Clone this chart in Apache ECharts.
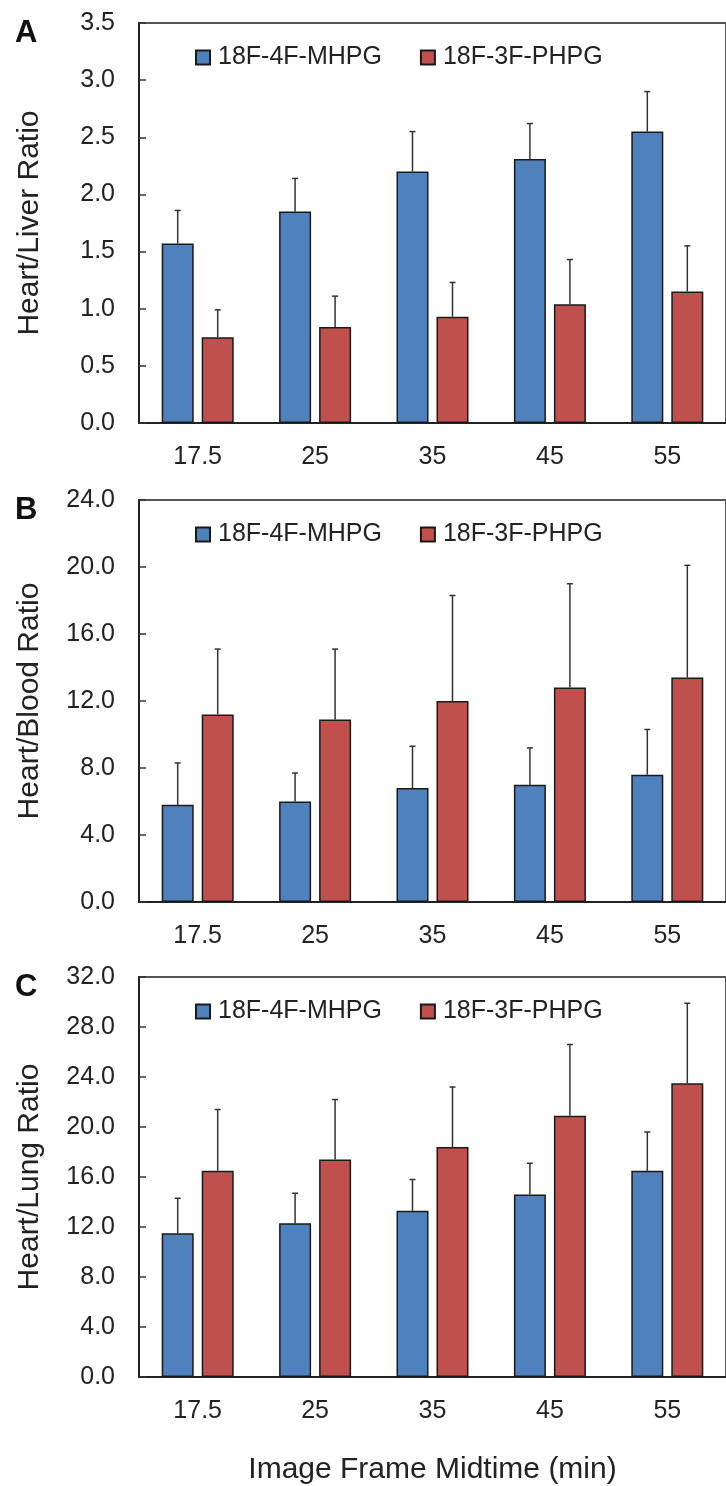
<!DOCTYPE html>
<html>
<head>
<meta charset="utf-8">
<script src="https://cdn.jsdelivr.net/npm/echarts@6/dist/echarts.min.js"></script>
<style>
  html, body { margin: 0; padding: 0; background: #fff; }
  #dom { width: 726px; height: 1486px; }
</style>
</head>
<body>
<div id="dom"></div>
<script>
var categories = ['17.5', '25', '35', '45', '55']
var seriesNames = ['18F-4F-MHPG', '18F-3F-PHPG']

// A: heart/liver
var liverMhpg = [1.57, 1.85, 2.20, 2.31, 2.55]
var liverMhpgSd = [0.29, 0.29, 0.35, 0.31, 0.35]
var liverPhpg = [0.75, 0.84, 0.93, 1.04, 1.15]
var liverPhpgSd = [0.24, 0.27, 0.30, 0.39, 0.40]

// B: heart/blood
var bloodMhpg = [5.8, 6.0, 6.8, 7.0, 7.6]
var bloodMhpgSd = [2.5, 1.7, 2.5, 2.2, 2.7]
var bloodPhpg = [11.2, 10.9, 12.0, 12.8, 13.4]
var bloodPhpgSd = [3.9, 4.2, 6.3, 6.2, 6.7]

// C: heart/lung
var lungMhpg = [11.5, 12.3, 13.3, 14.6, 16.5]
var lungMhpgSd = [2.8, 2.4, 2.5, 2.5, 3.1]
var lungPhpg = [16.5, 17.4, 18.4, 20.9, 23.5]
var lungPhpgSd = [4.9, 4.8, 4.8, 5.7, 6.4]

var panels = [
  { letter: 'A', yName: 'Heart/Liver Ratio', max: 3.5, interval: 0.5, top: 23, height: 400,
    vals: [liverMhpg, liverPhpg], sds: [liverMhpgSd, liverPhpgSd] },
  { letter: 'B', yName: 'Heart/Blood Ratio', max: 24, interval: 4, top: 500, height: 402,
    vals: [bloodMhpg, bloodPhpg], sds: [bloodMhpgSd, bloodPhpgSd] },
  { letter: 'C', yName: 'Heart/Lung Ratio', max: 32, interval: 4, top: 977, height: 402,
    vals: [lungMhpg, lungPhpg], sds: [lungMhpgSd, lungPhpgSd] }
]

var FONT = "'Liberation Sans', Arial, sans-serif"
var colors = ['#4F81BD', '#C0504D']
var BAR_W = 32
var OFFSET = 20

function errRender (offset) {
  return function (params, api) {
    var i = api.value(0)
    var m = api.value(1)
    var s = api.value(2)
    var p0 = api.coord([i, m])
    var p1 = api.coord([i, m + s])
    var cx = p0[0] + offset
    var st = { stroke: '#333', lineWidth: 1.5 }
    return {
      type: 'group',
      children: [
        { type: 'line', shape: { x1: cx, y1: p0[1], x2: cx, y2: p1[1] }, style: st },
        { type: 'line', shape: { x1: cx - 3, y1: p1[1], x2: cx + 3, y2: p1[1] }, style: st }
      ]
    }
  }
}

var grid = []
var xAxis = []
var yAxis = []
var series = []
var legend = []
var title = []

panels.forEach(function (p, k) {
  grid.push({
    left: 139, right: -5, top: p.top, height: p.height,
    show: true, borderColor: '#555', borderWidth: 2
  })
  title.push({
    text: p.letter, left: 10, top: p.top - 10,
    textStyle: { fontFamily: FONT, fontSize: 31, fontWeight: 'bold', color: '#111' }
  })
  legend.push({
    data: seriesNames, left: 190, top: p.top + 17,
    itemWidth: 14, itemHeight: 14, itemGap: 38, icon: 'rect',
    textStyle: { fontFamily: FONT, fontSize: 25, color: '#222', padding: [0, 0, 0, 3] }
  })
  xAxis.push({
    type: 'category', gridIndex: k, data: categories,
    axisLine: { lineStyle: { color: '#222', width: 2 } },
    axisTick: { inside: true, length: 6, lineStyle: { color: '#333', width: 1.5 } },
    axisLabel: { margin: 22, fontFamily: FONT, fontSize: 25, color: '#222' },
    name: k === 2 ? 'Image Frame Midtime (min)' : '',
    nameLocation: 'middle', nameGap: 78,
    nameTextStyle: { fontFamily: FONT, fontSize: 30, color: '#222' }
  })
  yAxis.push({
    type: 'value', gridIndex: k, min: 0, max: p.max, interval: p.interval,
    axisLine: { show: true, lineStyle: { color: '#222', width: 2 } },
    axisTick: { show: true, inside: true, length: 7, lineStyle: { color: '#333', width: 1.5 } },
    splitLine: { show: false },
    axisLabel: {
      margin: 24, fontFamily: FONT, fontSize: 25, color: '#222',
      formatter: function (v) { return v.toFixed(1) }
    },
    name: p.yName, nameLocation: 'middle', nameGap: 94,
    nameTextStyle: { fontFamily: FONT, fontSize: 30, color: '#222' }
  })
  for (var j = 0; j < 2; j++) {
    series.push({
      name: seriesNames[j], type: 'bar', xAxisIndex: k, yAxisIndex: k,
      barWidth: BAR_W, barGap: '25%',
      itemStyle: { color: colors[j], borderColor: '#1a1a1a', borderWidth: 1.5 },
      data: p.vals[j]
    })
  }
  for (var e = 0; e < 2; e++) {
    var vals = p.vals[e]
    var sds = p.sds[e]
    series.push({
      name: 'err' + k + e, type: 'custom', xAxisIndex: k, yAxisIndex: k, z: 5,
      renderItem: errRender(e === 0 ? -OFFSET : OFFSET),
      data: categories.map(function (c, i) { return [i, vals[i], sds[i]] })
    })
  }
})

var option = {
  animation: false,
  backgroundColor: '#fff',
  title: title,
  legend: legend,
  grid: grid,
  xAxis: xAxis,
  yAxis: yAxis,
  series: series
}

var chart = echarts.init(document.getElementById('dom'))
chart.setOption(option, true)
</script>
</body>
</html>
